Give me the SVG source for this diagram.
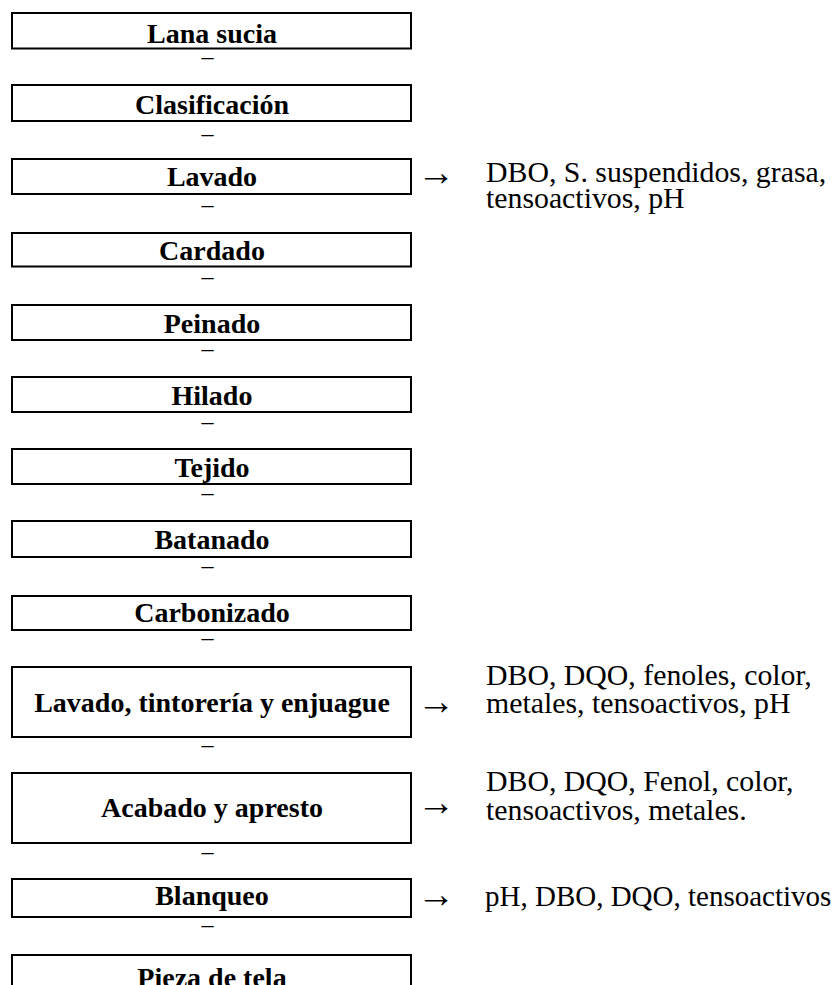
<svg xmlns="http://www.w3.org/2000/svg" width="835" height="985" viewBox="0 0 835 985">
<style>
  .box { fill: #ffffff; stroke: #000000; stroke-width: 2; }
  .lbl { font-family: "Liberation Serif", "Times New Roman", serif; font-weight: bold; font-size: 28px; fill: #000; text-anchor: middle; }
  .out { font-family: "Liberation Serif", "Times New Roman", serif; font-size: 29.8px; fill: #000; }
  .arr { font-family: "Liberation Serif", "Times New Roman", serif; font-size: 38px; fill: #000; }
  .dash { font-family: "Liberation Serif", "Times New Roman", serif; font-size: 24px; fill: #000; text-anchor: middle; }
</style>
<rect width="835" height="985" fill="#ffffff"/>
<g id="n1"><rect class="box" x="12" y="13" width="399" height="35.5"/><text class="lbl" x="212" y="42.5">Lana sucia</text></g>
<g id="n2"><rect class="box" x="12" y="85" width="399" height="36"/><text class="lbl" x="212" y="114">Clasificación</text></g>
<g id="n3"><rect class="box" x="12" y="159" width="399" height="35"/><text class="lbl" x="212" y="186">Lavado</text>
  <text class="arr" x="417" y="185">→</text>
  <text class="out" x="486" y="182">DBO, S. suspendidos, grasa,</text>
  <text class="out" x="486" y="208">tensoactivos, pH</text></g>
<g id="n4"><rect class="box" x="12" y="233" width="399" height="33.5"/><text class="lbl" x="212" y="259.5">Cardado</text></g>
<g id="n5"><rect class="box" x="12" y="305" width="399" height="35"/><text class="lbl" x="212" y="333">Peinado</text></g>
<g id="n6"><rect class="box" x="12" y="377" width="399" height="35"/><text class="lbl" x="212" y="404.5">Hilado</text></g>
<g id="n7"><rect class="box" x="12" y="449" width="399" height="35"/><text class="lbl" x="212" y="477">Tejido</text></g>
<g id="n8"><rect class="box" x="12" y="521" width="399" height="36"/><text class="lbl" x="212" y="549">Batanado</text></g>
<g id="n9"><rect class="box" x="12" y="596" width="399" height="34"/><text class="lbl" x="212" y="622">Carbonizado</text></g>
<g id="n10"><rect class="box" x="12" y="667" width="399" height="70"/><text class="lbl" x="212" y="712">Lavado, tintorería y enjuague</text>
  <text class="arr" x="417" y="714">→</text>
  <text class="out" x="486" y="685">DBO, DQO, fenoles, color,</text>
  <text class="out" x="486" y="713">metales, tensoactivos, pH</text></g>
<g id="n11"><rect class="box" x="12" y="773" width="399" height="70"/><text class="lbl" x="212" y="817">Acabado y apresto</text>
  <text class="arr" x="417" y="815">→</text>
  <text class="out" x="486" y="791">DBO, DQO, Fenol, color,</text>
  <text class="out" x="486" y="820">tensoactivos, metales.</text></g>
<g id="n12"><rect class="box" x="12" y="879" width="399" height="38"/><text class="lbl" x="212" y="905">Blanqueo</text>
  <text class="arr" x="417" y="907">→</text>
  <text class="out" x="485" y="906" style="font-size:29px">pH, DBO, DQO, tensoactivos</text></g>
<g id="n13"><rect class="box" x="12" y="955" width="399" height="60"/><text class="lbl" x="212" y="987">Pieza de tela</text></g>
<g id="connectors">
  <text class="dash" x="207.5" y="64">–</text>
  <text class="dash" x="207.5" y="141">–</text>
  <text class="dash" x="207.5" y="212">–</text>
  <text class="dash" x="207.5" y="284">–</text>
  <text class="dash" x="207.5" y="356">–</text>
  <text class="dash" x="207.5" y="429">–</text>
  <text class="dash" x="207.5" y="500">–</text>
  <text class="dash" x="207.5" y="573">–</text>
  <text class="dash" x="207.5" y="645">–</text>
  <text class="dash" x="207.5" y="752">–</text>
  <text class="dash" x="207.5" y="859">–</text>
  <text class="dash" x="207.5" y="932">–</text>
</g>
</svg>
